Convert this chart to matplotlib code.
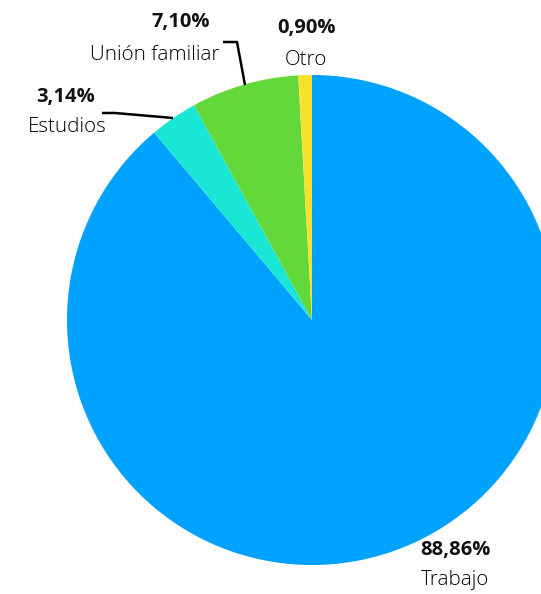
import matplotlib
matplotlib.use("Agg")
import matplotlib.pyplot as plt

categories = ["Trabajo", "Estudios", "Unión familiar", "Otro"]
values = [88.86, 3.14, 7.10, 0.90]
pct_labels = ["88,86%", "3,14%", "7,10%", "0,90%"]
colors = ["#00A2FF", "#19E6D4", "#63D83A", "#F8E02F"]

W, H = 541, 594
fig = plt.figure(figsize=(W / 100, H / 100), dpi=100)
ax = fig.add_axes([0, 0, 1, 1])

cx, cy, r = 312, 320, 245
# y-axis inverted: counterclock=True in data renders clockwise on screen
ax.pie(values, colors=colors, startangle=-90, counterclock=True,
       center=(cx, cy), radius=r, frame=True,
       wedgeprops=dict(linewidth=0))
ax.set_xlim(0, W)
ax.set_ylim(H, 0)
ax.set_aspect("equal")
ax.axis("off")

fam = ["Open Sans", "DejaVu Sans"]
lab_pos = {
    "Trabajo": (455, 455, 550, 580),
    "Estudios": (66, 67, 97, 127),
    "Unión familiar": (181, 155, 22, 55),
    "Otro": (306, 306, 28, 60),
}
for cat, pct in zip(categories, pct_labels):
    xp, xl, yp, yl = lab_pos[cat]
    ax.text(xp, yp, pct, ha="center", va="center", fontsize=14.5,
            fontweight="bold", family=fam, color="#111111")
    ax.text(xl, yl, cat, ha="center", va="center", fontsize=14.8,
            fontweight="light", family=fam, color="#000000")

# leader lines
ax.plot([223, 237, 245], [42, 42, 85], color="black", lw=1.8,
        solid_capstyle="butt")
ax.plot([102, 115, 173], [113, 113, 118], color="black", lw=1.8,
        solid_capstyle="butt")

fig.savefig("out.png", dpi=100)
